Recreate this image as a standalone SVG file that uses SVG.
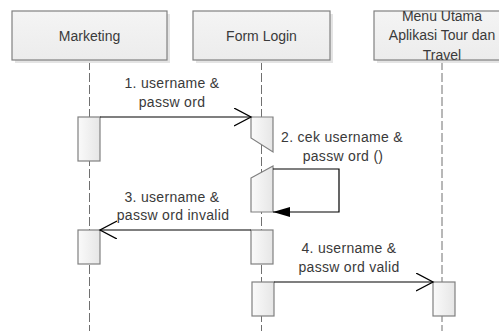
<svg xmlns="http://www.w3.org/2000/svg" width="499" height="331" viewBox="0 0 499 331">
  <defs>
    <linearGradient id="actFill" x1="0" y1="0" x2="1" y2="0">
      <stop offset="0" stop-color="#fafafa"/>
      <stop offset="1" stop-color="#e6e6e6"/>
    </linearGradient>
    <linearGradient id="headFill" x1="0" y1="0" x2="0" y2="1">
      <stop offset="0" stop-color="#f4f4f4"/>
      <stop offset="1" stop-color="#ececec"/>
    </linearGradient>
    <marker id="open" markerWidth="20" markerHeight="20" refX="17" refY="9" orient="auto" markerUnits="userSpaceOnUse">
      <path d="M0,0 L17,9 L0,18" fill="none" stroke="#000" stroke-width="1.3"/>
    </marker>
    <marker id="filled" markerWidth="20" markerHeight="12" refX="17" refY="5" orient="auto" markerUnits="userSpaceOnUse">
      <path d="M0,0 L17,5 L0,10 Z" fill="#000"/>
    </marker>
  </defs>
  <style>
    .head { fill: url(#headFill); stroke: #808080; stroke-width: 1.2; }
    .shadow { fill: #e4e4e4; }
    .act { fill: url(#actFill); stroke: #808080; stroke-width: 1.2; }
    .life { stroke: #707070; stroke-width: 1; stroke-dasharray: 9,3; fill: none; }
    .msg { stroke: #000; stroke-width: 1.2; fill: none; }
    text { font-family: "Liberation Sans", Arial, sans-serif; font-size: 14px; fill: #3a3a3a; text-anchor: middle; }
    .lbl { letter-spacing: 0.3px; }
  </style>
  <rect width="499" height="331" fill="#ffffff"/>

  <g id="lifelines">
    <line class="life" x1="89.5" y1="61" x2="89.5" y2="331"/>
    <line class="life" x1="261.5" y1="61" x2="261.5" y2="331"/>
    <line class="life" x1="442" y1="61" x2="442" y2="331"/>
  </g>

  <g id="marketing">
    <rect class="shadow" x="15" y="14" width="155" height="49"/>
    <rect class="head" x="12" y="11" width="155" height="49"/>
    <text x="89.5" y="40.5">Marketing</text>
  </g>

  <g id="form-login">
    <rect class="shadow" x="196" y="14" width="137" height="49"/>
    <rect class="head" x="193" y="11" width="137" height="49"/>
    <text x="261.5" y="40.5">Form Login</text>
  </g>

  <g id="menu-utama">
    <rect class="shadow" x="377" y="14" width="137" height="49"/>
    <rect class="head" x="374" y="11" width="137" height="49"/>
    <text x="442" y="20.5">Menu Utama</text>
    <text x="442" y="40">Aplikasi Tour dan</text>
    <text x="442" y="59.5">Travel</text>
  </g>

  <g id="activations">
    <rect class="act" x="78" y="117" width="22" height="44"/>
    <rect class="act" x="78" y="230" width="22" height="34"/>
    <polygon class="act" points="251,117 273,117 273,152 251,138"/>
    <polygon class="act" points="251,178 273,166 273,212 251,212"/>
    <rect class="act" x="251" y="230" width="22" height="34"/>
    <rect class="act" x="252" y="282" width="22" height="34"/>
    <rect class="act" x="433" y="282" width="22" height="34"/>
  </g>

  <g id="connectors">
    <line class="msg" x1="100" y1="117" x2="251" y2="117" marker-end="url(#open)"/>
    <path class="msg" d="M273,169 H339 V212 H273" marker-end="url(#filled)"/>
    <line class="msg" x1="251" y1="230" x2="100" y2="230" marker-end="url(#open)"/>
    <line class="msg" x1="274" y1="282" x2="433" y2="282" marker-end="url(#open)"/>
  </g>

  <g id="labels">
    <text class="lbl" x="172" y="88">1. username &amp;</text>
    <text class="lbl" x="172" y="106.5">passw ord</text>
    <text class="lbl" x="342" y="141.5">2. cek username &amp;</text>
    <text class="lbl" x="343" y="160.5">passw ord ()</text>
    <text class="lbl" x="172" y="201.5">3. username &amp;</text>
    <text class="lbl" x="173" y="220">passw ord invalid</text>
    <text class="lbl" x="349" y="252.5">4. username &amp;</text>
    <text class="lbl" x="349" y="271.5">passw ord valid</text>
  </g>
</svg>
